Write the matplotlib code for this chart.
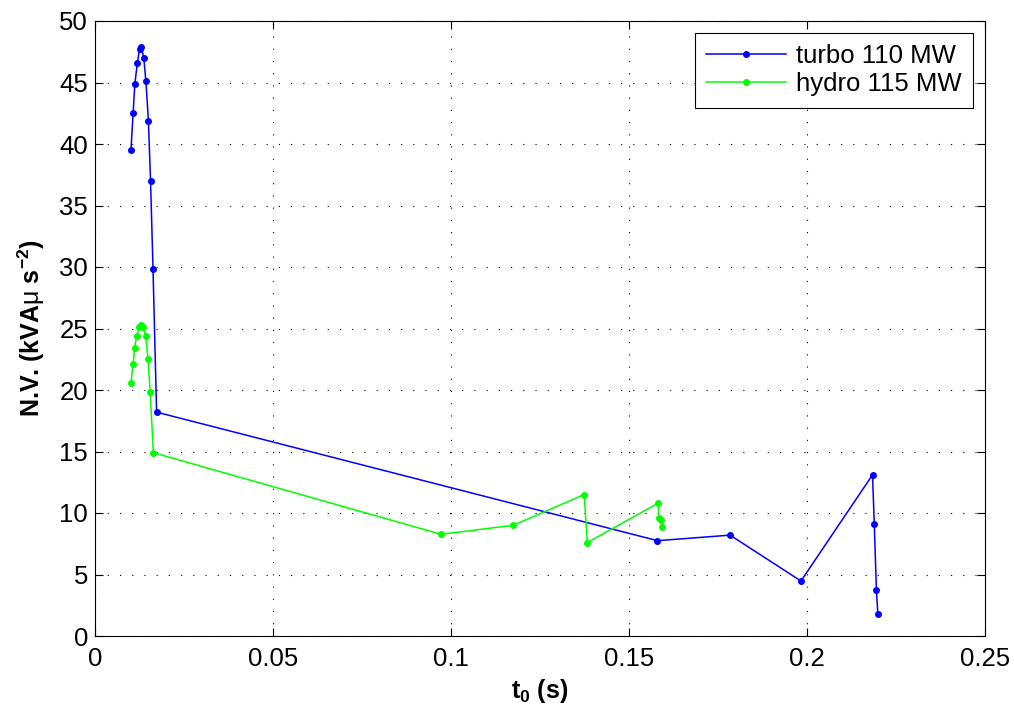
import numpy as np
import matplotlib
matplotlib.use('Agg')
import matplotlib.pyplot as plt

plt.rcParams['font.family'] = ['Liberation Sans', 'DejaVu Sans']
plt.rcParams['mathtext.fontset'] = 'custom'
plt.rcParams['mathtext.rm'] = 'Liberation Sans'
plt.rcParams['mathtext.bf'] = 'Liberation Sans:bold'
plt.rcParams['mathtext.it'] = 'Liberation Sans:italic'

# turbo 110 MW
t_turbo = [0.0101, 0.0107, 0.0112, 0.0119, 0.0125, 0.0130, 0.0137, 0.0143, 0.0150, 0.0156,
           0.0163, 0.0173, 0.1580, 0.1784, 0.1983, 0.2184, 0.2189, 0.2195, 0.2199]
nv_turbo = [39.5, 42.5, 44.9, 46.6, 47.7, 47.9, 47.0, 45.1, 41.9, 37.0,
            29.8, 18.2, 7.75, 8.2, 4.47, 13.1, 9.1, 3.7, 1.8]

# hydro 115 MW
t_hydro = [0.0101, 0.0107, 0.0111, 0.0117, 0.0124, 0.0129, 0.0135, 0.0142, 0.0149, 0.0155,
           0.0164, 0.0972, 0.1175, 0.1374, 0.1383, 0.1582, 0.1584, 0.1589, 0.1593]
nv_hydro = [20.6, 22.1, 23.4, 24.4, 25.1, 25.3, 25.1, 24.4, 22.5, 19.8,
            14.9, 8.27, 9.0, 11.5, 7.6, 10.8, 9.6, 9.4, 8.9]

fs = 18.5

fig = plt.figure(figsize=(10.14, 7.13), dpi=100)
ax = fig.add_axes([95 / 1014, 1 - 636 / 713, 890 / 1014, 615 / 713])

ax.plot(t_turbo, nv_turbo, color='#0000ff', marker='.', ms=8, linewidth=1.1, label='turbo 110 MW')
ax.plot(t_hydro, nv_hydro, color='#00ff00', marker='.', ms=8, linewidth=1.1, label='hydro 115 MW')

ax.set_xlim([0, 0.25])
ax.set_ylim([0, 50])
ax.set_xticks([0, 0.05, 0.1, 0.15, 0.2, 0.25])
ax.set_xticklabels(['0', '0.05', '0.1', '0.15', '0.2', '0.25'])
ax.set_yticks(np.arange(0, 51, 5))
ax.grid(True, color='black', linestyle=(0, (1, 10)), linewidth=0.8)
ax.tick_params(axis='both', which='major', direction='in', length=6, width=0.8,
               top=True, right=True, labelsize=fs)
ax.tick_params(axis='x', pad=8)
ax.tick_params(axis='y', pad=5)
for axis in ['top', 'bottom', 'left', 'right']:
    ax.spines[axis].set_linewidth(0.8)

ax.set_xlabel(r'$\mathbf{t_0}$ (s)', fontsize=18, fontweight='bold', labelpad=4)
ax.set_ylabel(r'N.V. (kVA$\mathrm{\mu}$ s$^{\mathbf{-2}}$)', fontsize=18, fontweight='bold', labelpad=9)

leg = ax.legend(loc='upper right', fontsize=fs, fancybox=False, framealpha=1,
                edgecolor='black', borderaxespad=0.45, handlelength=3.1, handletextpad=0.4,
                borderpad=0.45, labelspacing=0.15)
leg.get_frame().set_linewidth(0.8)

plt.savefig('out.png', dpi=100)
